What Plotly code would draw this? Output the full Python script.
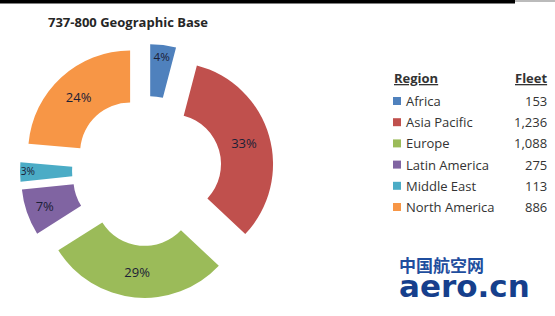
import plotly.graph_objects as go

# ---- data ----
regions = ["Africa", "Asia Pacific", "Europe", "Latin America", "Middle East", "North America"]
fleet = [153, 1236, 1088, 275, 113, 886]
fleet_labels = ["153", "1,236", "1,088", "275", "113", "886"]
colors = ["#4F81BD", "#C0504D", "#9BBB59", "#8064A2", "#4BACC6", "#F79646"]
title_text = "737-800 Geographic Base"
header_region = "Region"
header_fleet = "Fleet"
watermark_cn = "中国航空网"
watermark_en = "aero.cn"

W, H = 555, 316
FONT = "Open Sans"


def px_x(x):
    return x / W


def px_y(y):
    return 1 - y / H


fig = go.Figure(
    go.Pie(
        labels=regions,
        values=fleet,
        sort=False,
        direction="clockwise",
        rotation=0,
        hole=0.49,
        pull=0.245,
        marker=dict(colors=colors, line=dict(width=0)),
        texttemplate="%{percent:.0%}",
        textposition="inside",
        insidetextorientation="horizontal",
        textfont=dict(family=FONT, size=13, color="#1b2036"),
        domain=dict(x=[px_x(20), px_x(274)], y=[px_y(298), px_y(44)]),
        showlegend=False,
    )
)

annotations = []
shapes = []

# title
annotations.append(dict(
    text="<b>" + title_text + "</b>", x=px_x(46), y=px_y(22),
    xref="paper", yref="paper", xanchor="left", yanchor="middle",
    showarrow=False, font=dict(family=FONT, size=13, color="#262626")))

# top black bar + faint continuation
shapes.append(dict(type="rect", xref="paper", yref="paper",
                   x0=0, x1=px_x(515), y0=px_y(3.5), y1=1,
                   fillcolor="#000000", line=dict(width=0)))
shapes.append(dict(type="rect", xref="paper", yref="paper",
                   x0=px_x(515), x1=1, y0=px_y(2), y1=1,
                   fillcolor="#bbbbbb", line=dict(width=0)))

# legend table headers
annotations.append(dict(
    text="<b><u>" + header_region + "</u></b>", x=px_x(392), y=px_y(78),
    xref="paper", yref="paper", xanchor="left", yanchor="middle",
    showarrow=False, font=dict(family=FONT, size=13, color="#333333")))
annotations.append(dict(
    text="<b><u>" + header_fleet + "</u></b>", x=px_x(549), y=px_y(78),
    xref="paper", yref="paper", xanchor="right", yanchor="middle",
    showarrow=False, font=dict(family=FONT, size=13, color="#333333")))

row0, step = 101, 21.2
for i, (reg, val, col) in enumerate(zip(regions, fleet_labels, colors)):
    yc = row0 + i * step
    shapes.append(dict(type="rect", xref="paper", yref="paper",
                       x0=px_x(393), x1=px_x(401), y0=px_y(yc + 4), y1=px_y(yc - 4),
                       fillcolor=col, line=dict(width=0)))
    annotations.append(dict(
        text=reg, x=px_x(404), y=px_y(yc),
        xref="paper", yref="paper", xanchor="left", yanchor="middle",
        showarrow=False, font=dict(family=FONT, size=13, color="#333333")))
    annotations.append(dict(
        text=val, x=px_x(549), y=px_y(yc),
        xref="paper", yref="paper", xanchor="right", yanchor="middle",
        showarrow=False, font=dict(family=FONT, size=13, color="#333333")))

# watermark (one stacked text block)
wm_text = (
    "<span style='font-family:Noto Sans CJK SC;font-size:17px;color:#1f4e9e'>"
    "<b>" + watermark_cn + "</b></span><br>"
    "<span style='font-size:31px'><b>" + watermark_en + "</b></span>"
)
annotations.append(dict(
    text=wm_text, x=px_x(397), y=px_y(306), align="left",
    xref="paper", yref="paper", xanchor="left", yanchor="bottom",
    showarrow=False, font=dict(family="DejaVu Sans", size=19, color="#163f8c")))

fig.update_layout(
    width=W, height=H,
    margin=dict(l=0, r=0, t=0, b=0),
    paper_bgcolor="white", plot_bgcolor="white",
    annotations=annotations, shapes=shapes,
)

fig.write_html(
    "out.html",
    config={"displayModeBar": False},
    post_script="document.body.style.margin='0';document.body.style.padding='0';"
                "document.body.style.overflow='hidden';",
)
